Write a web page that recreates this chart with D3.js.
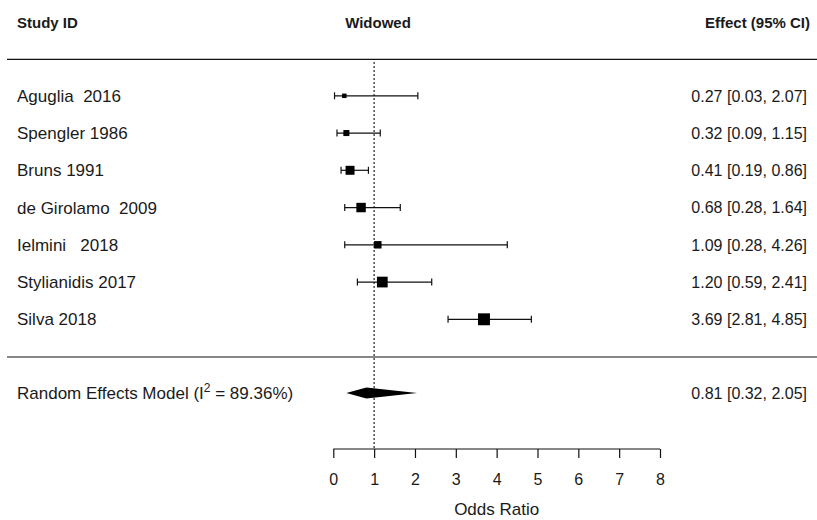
<!DOCTYPE html>
<html>
<head>
<meta charset="utf-8">
<script src="https://cdn.jsdelivr.net/npm/d3@7"></script>
<style>
  html, body { margin: 0; padding: 0; background: #fff; }
  svg text { font-family: "Liberation Sans", Arial, sans-serif; fill: #1a1a1a; }
</style>
</head>
<body>
<svg id="chart" width="817" height="520"></svg>
<script>
// ---- data ----
const studies = ["Aguglia  2016", "Spengler 1986", "Bruns 1991", "de Girolamo  2009", "Ielmini   2018", "Stylianidis 2017", "Silva 2018"];
const estimates = [0.27, 0.32, 0.41, 0.68, 1.09, 1.20, 3.69];
const lower = [0.03, 0.09, 0.19, 0.28, 0.28, 0.59, 2.81];
const upper = [2.07, 1.15, 0.86, 1.64, 4.26, 2.41, 4.85];
const weights = [7.6, 10.2, 15.2, 16.0, 12.6, 18.2, 20.2];
const pooled = { est: 0.81, lo: 0.32, hi: 2.05 };
const i2Label = "89.36%";
const xTicks = [0, 1, 2, 3, 4, 5, 6, 7, 8];
const headers = ["Study ID", "Widowed", "Effect (95% CI)"];
const axisTitle = "Odds Ratio";
const refValue = 1;

const svg = d3.select("#chart");
const W = 817, H = 520;
svg.append("rect").attr("width", W).attr("height", H).attr("fill", "#fff");

const x = d3.scaleLinear().domain([0, 8]).range([333.3, 660]);
const y = d3.scaleLinear().domain([0, 6]).range([95.8, 319.3]);
const size = d3.scaleLinear().domain([0, 20]).range([0, 11.8]);
const fmt = d3.format(".2f");

const fsL = 17;   // left labels
const fsR = 16;   // right column
const fsH = 15;   // headers
const rightX = 807;

// headers
svg.append("text").attr("x", 17).attr("y", 28).attr("font-size", fsH).attr("font-weight", "bold").text(headers[0]);
svg.append("text").attr("x", 378).attr("y", 28).attr("text-anchor", "middle").attr("font-size", fsH).attr("font-weight", "bold").text(headers[1]);
svg.append("text").attr("x", 810).attr("y", 28).attr("text-anchor", "end").attr("font-size", fsH).attr("font-weight", "bold").text(headers[2]);

// horizontal rules
svg.append("line").attr("x1", 7).attr("x2", W).attr("y1", 59.3).attr("y2", 59.3).attr("stroke", "#111").attr("stroke-width", 1.2);
svg.append("line").attr("x1", 7).attr("x2", W).attr("y1", 357).attr("y2", 357).attr("stroke", "#111").attr("stroke-width", 1.2);

// reference line
svg.append("line").attr("x1", x(refValue)).attr("x2", x(refValue)).attr("y1", 62).attr("y2", 449)
  .attr("stroke", "#333").attr("stroke-width", 1.3).attr("stroke-dasharray", "2,2");

// rows
const rows = svg.append("g").selectAll("g").data(studies).join("g");
rows.append("text").attr("x", 17).attr("y", (d, i) => y(i) + 6).attr("font-size", fsL)
  .attr("xml:space", "preserve").style("white-space", "pre").text(d => d);
rows.append("text").attr("x", rightX).attr("y", (d, i) => y(i) + 5.8).attr("font-size", fsR).attr("text-anchor", "end")
  .text((d, i) => `${fmt(estimates[i])} [${fmt(lower[i])}, ${fmt(upper[i])}]`);
rows.append("line").attr("x1", (d, i) => x(lower[i])).attr("x2", (d, i) => x(upper[i]))
  .attr("y1", (d, i) => y(i)).attr("y2", (d, i) => y(i)).attr("stroke", "#111").attr("stroke-width", 1.2);
rows.append("line").attr("x1", (d, i) => x(lower[i])).attr("x2", (d, i) => x(lower[i]))
  .attr("y1", (d, i) => y(i) - 3.5).attr("y2", (d, i) => y(i) + 3.5).attr("stroke", "#111").attr("stroke-width", 1.2);
rows.append("line").attr("x1", (d, i) => x(upper[i])).attr("x2", (d, i) => x(upper[i]))
  .attr("y1", (d, i) => y(i) - 3.5).attr("y2", (d, i) => y(i) + 3.5).attr("stroke", "#111").attr("stroke-width", 1.2);
rows.append("rect")
  .attr("x", (d, i) => x(estimates[i]) - size(weights[i]) / 2)
  .attr("y", (d, i) => y(i) - size(weights[i]) / 2)
  .attr("width", (d, i) => size(weights[i]))
  .attr("height", (d, i) => size(weights[i]))
  .attr("fill", "#000");

// pooled
const py = 393;
const lbl = svg.append("text").attr("x", 17).attr("y", py + 6).attr("font-size", fsL);
lbl.append("tspan").text("Random Effects Model (I");
lbl.append("tspan").attr("font-size", 12).attr("dy", -7).text("2");
lbl.append("tspan").attr("dy", 7).text(" = " + i2Label + ")");
svg.append("text").attr("x", rightX).attr("y", py + 5.8).attr("font-size", fsR).attr("text-anchor", "end")
  .text(`${fmt(pooled.est)} [${fmt(pooled.lo)}, ${fmt(pooled.hi)}]`);
svg.append("polygon")
  .attr("points", [[x(pooled.lo), py], [x(pooled.est), py - 5.5], [x(pooled.hi), py], [x(pooled.est), py + 5.5]].map(p => p.join(",")).join(" "))
  .attr("fill", "#000");

// axis
const axis = d3.axisBottom(x).tickValues(xTicks).tickFormat(d3.format("d")).tickSize(9).tickPadding(16);
const ax = svg.append("g").attr("transform", "translate(0,449)").call(axis);
ax.select(".domain").attr("stroke", "#111").attr("stroke-width", 1.2).attr("d", `M${x(0)},0H${x(8)}`);
ax.selectAll(".tick line").attr("stroke", "#111").attr("stroke-width", 1.2);
ax.selectAll(".tick text").attr("font-size", fsR).attr("font-family", "Liberation Sans, Arial, sans-serif").attr("fill", "#1a1a1a");
svg.append("text").attr("x", x(4)).attr("y", 515).attr("text-anchor", "middle").attr("font-size", fsL).text(axisTitle);
</script>
</body>
</html>
